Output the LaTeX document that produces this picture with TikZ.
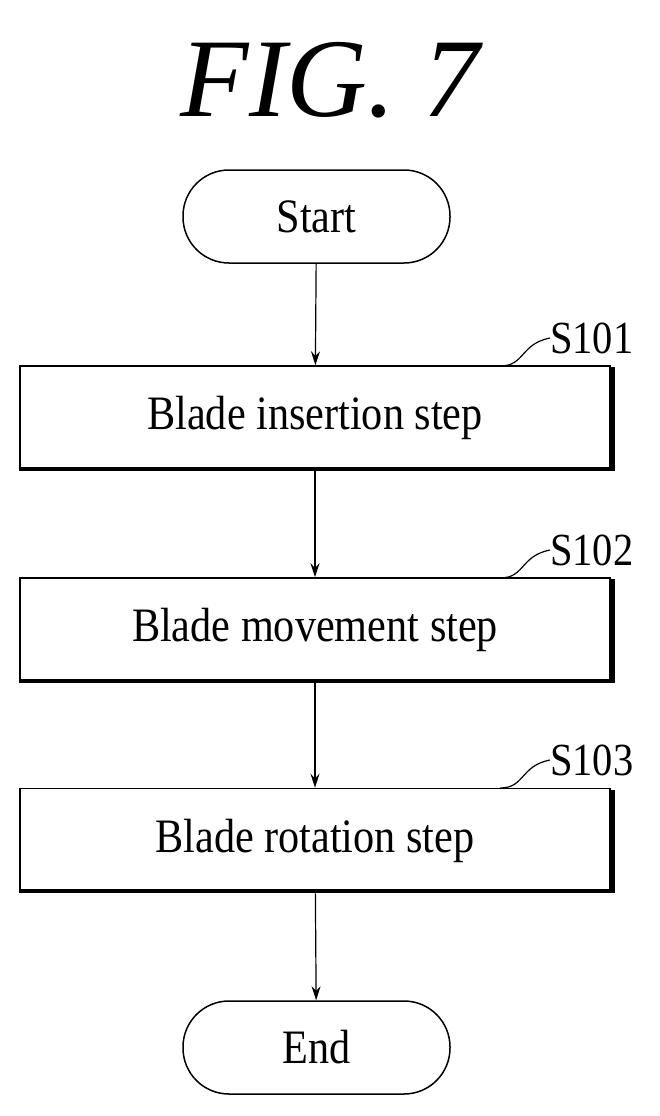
\documentclass[tikz,border=0pt]{standalone}
\usepackage{fontspec}
\usepackage{graphicx}
\setmainfont{Liberation Serif}
\usetikzlibrary{arrows.meta}
\newcommand\cond[1]{\scalebox{0.88}[1]{#1}}
\begin{document}
\begin{tikzpicture}[x=1pt,y=-1pt,
  box/.style={draw,line width=1.5pt,minimum width=590pt,minimum height=104pt,inner sep=0pt,font=\fontsize{48}{56}\selectfont},
  term/.style={draw,line width=1.5pt,rounded corners=46pt,minimum width=267pt,minimum height=93pt,inner sep=0pt,font=\fontsize{48}{56}\selectfont},
  arr/.style={line width=1.2pt,-{Stealth[length=14pt,width=9pt]}},
  lab/.style={font=\fontsize{46}{52}\selectfont,inner sep=0pt}]
\path[use as bounding box] (0,0) rectangle (660,1116);
\node[font=\fontsize{112}{120}\selectfont\itshape] (title) at (330,80) {FIG. 7};
\node[term] (start) at (316.5,216.5) {\cond{Start}};
\node[box] (s1) at (315,418) {\cond{Blade insertion step}};
\node[box] (s2) at (315,630) {\cond{Blade movement step}};
\node[box] (s3) at (315,840.5) {\cond{Blade rotation step}};
\node[term] (end) at (316.5,1047.5) {\cond{End}};
\foreach \n in {s1,s2,s3}{
  \draw[line width=4pt] ([xshift=2pt,yshift=-2pt]\n.north east) -- ([xshift=2pt,yshift=2pt]\n.south east) -- ([xshift=2pt,yshift=2pt]\n.south west);
}
\draw[arr] (start) -- (s1);
\draw[arr] (s1) -- (s2);
\draw[arr] (s2) -- (s3);
\draw[arr] (s3) -- (end);
\node[lab,anchor=west] (l1) at (550,338) {\cond{S101}};
\node[lab,anchor=west] (l2) at (550,550) {\cond{S102}};
\node[lab,anchor=west] (l3) at (550,760) {\cond{S103}};
\coordinate (c1) at (500,366);
\coordinate (c2) at (500,578);
\coordinate (c3) at (500,788);
\draw[line width=1.2pt] (c1) .. controls (525,366) and (520,344) .. (l1.west);
\draw[line width=1.2pt] (c2) .. controls (525,578) and (520,556) .. (l2.west);
\draw[line width=1.2pt] (c3) .. controls (525,788) and (520,766) .. (l3.west);
\end{tikzpicture}
\end{document}
